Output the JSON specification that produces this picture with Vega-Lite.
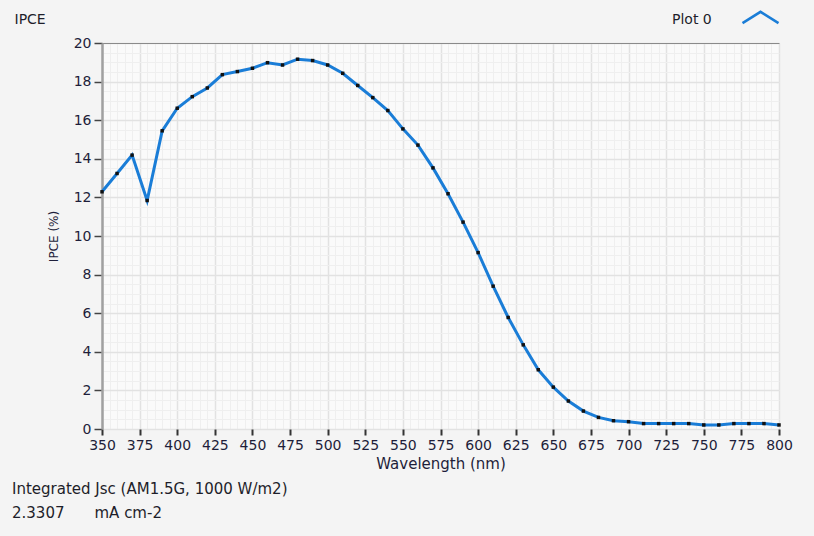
{
  "$schema": "https://vega.github.io/schema/vega-lite/v6.json",
  "width": 677,
  "height": 386,
  "autosize": {"type": "none"},
  "padding": {"left": 102, "top": 43, "right": 35, "bottom": 107},
  "background": "#f4f4f4",
  "config": {
    "view": {"fill": "#fafafa", "stroke": null},
    "font": "DejaVu Sans",
    "axis": {"labelFont": "DejaVu Sans", "titleFont": "DejaVu Sans", "labelColor": "#1e1e3a", "titleColor": "#1e1e3a", "titleFontWeight": "normal"}
  },
  "title": {
    "text": "Integrated Jsc (AM1.5G, 1000 W/m2)",
    "subtitle": "\u20052.3307\u2003\u2003mA cm-2",
    "orient": "bottom",
    "anchor": "start",
    "frame": "group",
    "dx": -90,
    "offset": 11,
    "fontSize": 15,
    "fontWeight": "normal",
    "color": "#1e1e2a",
    "subtitleFontSize": 15,
    "subtitleColor": "#1e1e2a",
    "subtitlePadding": 9,
    "font": "DejaVu Sans",
    "subtitleFont": "DejaVu Sans"
  },
  "data": {"values": [
    {"wl": 350, "ipce": 12.29}, {"wl": 360, "ipce": 13.24}, {"wl": 370, "ipce": 14.19}, {"wl": 380, "ipce": 11.84},
    {"wl": 390, "ipce": 15.45}, {"wl": 400, "ipce": 16.62}, {"wl": 410, "ipce": 17.22}, {"wl": 420, "ipce": 17.67},
    {"wl": 430, "ipce": 18.36}, {"wl": 440, "ipce": 18.52}, {"wl": 450, "ipce": 18.69}, {"wl": 460, "ipce": 18.98},
    {"wl": 470, "ipce": 18.86}, {"wl": 480, "ipce": 19.16}, {"wl": 490, "ipce": 19.09}, {"wl": 500, "ipce": 18.86},
    {"wl": 510, "ipce": 18.43}, {"wl": 520, "ipce": 17.8}, {"wl": 530, "ipce": 17.17}, {"wl": 540, "ipce": 16.5},
    {"wl": 550, "ipce": 15.55}, {"wl": 560, "ipce": 14.71}, {"wl": 570, "ipce": 13.53}, {"wl": 580, "ipce": 12.19},
    {"wl": 590, "ipce": 10.72}, {"wl": 600, "ipce": 9.14}, {"wl": 610, "ipce": 7.4}, {"wl": 620, "ipce": 5.78},
    {"wl": 630, "ipce": 4.36}, {"wl": 640, "ipce": 3.07}, {"wl": 650, "ipce": 2.17}, {"wl": 660, "ipce": 1.45},
    {"wl": 670, "ipce": 0.93}, {"wl": 680, "ipce": 0.6}, {"wl": 690, "ipce": 0.43}, {"wl": 700, "ipce": 0.38},
    {"wl": 710, "ipce": 0.28}, {"wl": 720, "ipce": 0.28}, {"wl": 730, "ipce": 0.28}, {"wl": 740, "ipce": 0.28},
    {"wl": 750, "ipce": 0.21}, {"wl": 760, "ipce": 0.21}, {"wl": 770, "ipce": 0.28}, {"wl": 780, "ipce": 0.28},
    {"wl": 790, "ipce": 0.28}, {"wl": 800, "ipce": 0.21}
  ]},
  "resolve": {"axis": {"x": "independent", "y": "independent"}},
  "layer": [
    {
      "mark": {"type": "line", "strokeWidth": 3},
      "encoding": {
        "x": {
          "field": "wl", "type": "quantitative",
          "scale": {"domain": [350, 800], "nice": false, "zero": false},
          "axis": {
            "orient": "top",
            "values": [350,355,360,365,370,375,380,385,390,395,400,405,410,415,420,425,430,435,440,445,450,455,460,465,470,475,480,485,490,495,500,505,510,515,520,525,530,535,540,545,550,555,560,565,570,575,580,585,590,595,600,605,610,615,620,625,630,635,640,645,650,655,660,665,670,675,680,685,690,695,700,705,710,715,720,725,730,735,740,745,750,755,760,765,770,775,780,785,790,795,800],
            "labels": false,
            "ticks": false,
            "grid": true,
            "gridColor": "#efefef",
            "gridWidth": 1,
            "domain": true,
            "domainColor": "#8a8a8a",
            "domainWidth": 1,
            "title": "IPCE",
            "titleFontSize": 14,
            "titleColor": "#1e1e2a",
            "titleAngle": 0,
            "titleAlign": "left",
            "titleBaseline": "middle",
            "titleX": -88,
            "titleY": -24
          }
        },
        "y": {
          "field": "ipce", "type": "quantitative",
          "scale": {"domain": [0, 20], "nice": false},
          "axis": {
            "orient": "right",
            "values": [0,0.5,1,1.5,2,2.5,3,3.5,4,4.5,5,5.5,6,6.5,7,7.5,8,8.5,9,9.5,10,10.5,11,11.5,12,12.5,13,13.5,14,14.5,15,15.5,16,16.5,17,17.5,18,18.5,19,19.5,20],
            "labels": false,
            "ticks": false,
            "domain": false,
            "grid": true,
            "gridColor": "#efefef",
            "gridWidth": 1,
            "title": null
          }
        },
        "color": {
          "datum": "Plot 0",
          "scale": {"range": ["#1a7dd7"]},
          "legend": {
            "orient": "none",
            "legendX": 570,
            "legendY": -45,
            "title": "Plot 0",
            "titleOrient": "left",
            "titleAnchor": "middle",
            "titleFont": "DejaVu Sans",
            "titleFontSize": 14,
            "titleFontWeight": "normal",
            "titleColor": "#1e1e2a",
            "titlePadding": 29,
            "titleBaseline": "top",
            "labelExpr": "''",
            "symbolType": "M-1,0.315L0,-0.315L1,0.315",
            "symbolSize": 1296,
            "symbolStrokeWidth": 2.5,
            "symbolFillColor": "transparent",
            "symbolStrokeColor": "#1a7dd7"
          }
        }
      }
    },
    {
      "mark": {"type": "point", "shape": "square", "filled": true, "size": 12, "color": "#111111", "opacity": 1},
      "encoding": {
        "x": {
          "field": "wl", "type": "quantitative",
          "axis": {
            "orient": "bottom",
            "title": "Wavelength (nm)",
            "titleFontSize": 15,
            "titlePadding": 4,
            "values": [350,375,400,425,450,475,500,525,550,575,600,625,650,675,700,725,750,775,800],
            "labelFontSize": 14,
            "labelPadding": 3,
            "labelFlush": false,
            "labelOverlap": false,
            "domain": false,
            "grid": true,
            "gridColor": "#e2e2e2",
            "gridWidth": 1.5,
            "tickColor": "#333333",
            "tickSize": 6,
            "tickWidth": 2
          }
        },
        "y": {
          "field": "ipce", "type": "quantitative",
          "axis": {
            "orient": "left",
            "title": "IPCE (%)",
            "titleFontSize": 12,
            "titlePadding": 13,
            "values": [0,2,4,6,8,10,12,14,16,18,20],
            "labelFontSize": 14,
            "labelPadding": 3,
            "labelOverlap": false,
            "labelFlush": false,
            "domain": true,
            "domainColor": "#a0a0a0",
            "domainWidth": 2.5,
            "grid": true,
            "gridColor": "#e2e2e2",
            "gridWidth": 1.5,
            "tickColor": "#444444",
            "tickSize": 8,
            "tickWidth": 1.5
          }
        }
      }
    }
  ]
}
